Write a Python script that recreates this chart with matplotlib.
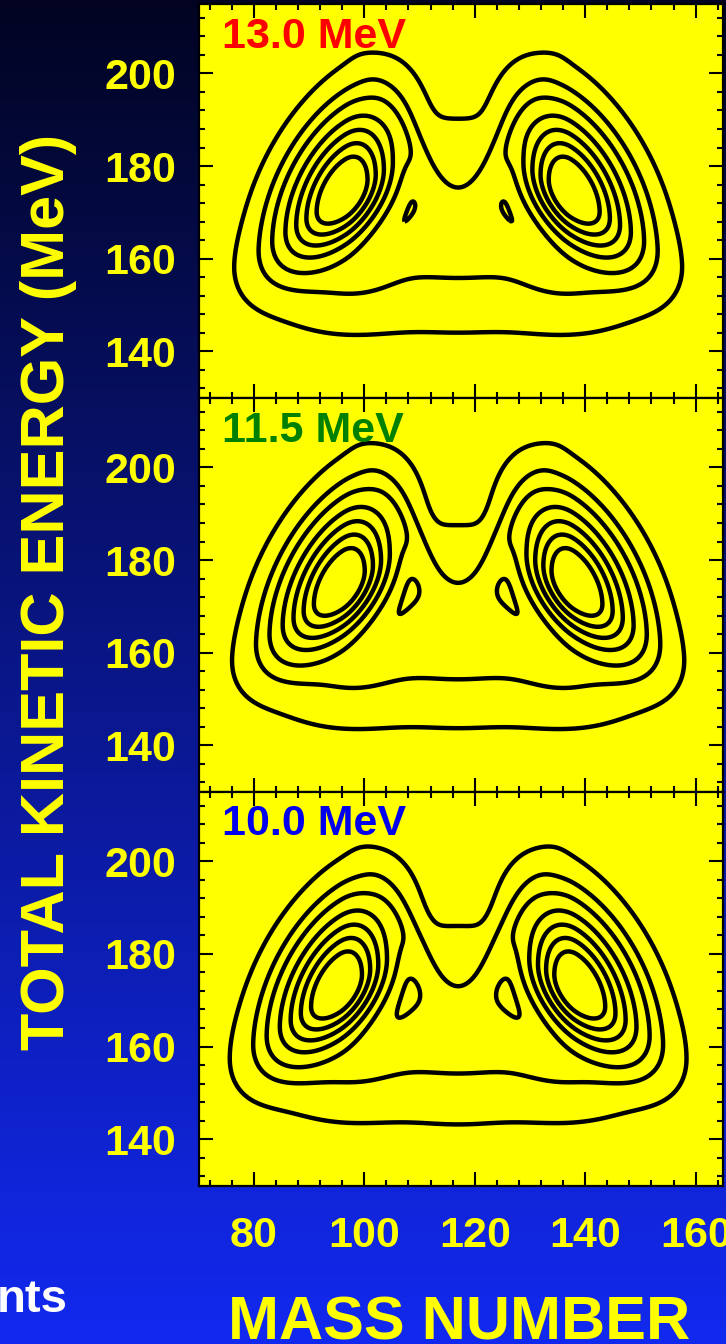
import numpy as np
import matplotlib
matplotlib.use('Agg')
import matplotlib.pyplot as plt
from matplotlib.ticker import MultipleLocator

plt.rcParams['font.family'] = ['Liberation Sans', 'DejaVu Sans']
plt.rcParams['font.weight'] = 'bold'

# Panel labels (excitation energy) and their colours
PANEL_LABELS = ['13.0 MeV', '11.5 MeV', '10.0 MeV']
LABEL_COLORS = ['#ff0000', '#008000', '#0000ee']

X_TICKS = [80, 100, 120, 140, 160]
Y_TICKS = [140, 160, 180, 200]

# mass-TKE yield model (light peak; heavy one is mirrored)
MASS_CENTRE = 117.0
PEAK_MASS = [96.5, 96.0, 95.5]
PEAK_TKE = [174.0, 174.5, 172.5]
PEAK_SIG_A_OUT = [5.5, 5.5, 5.5]
PEAK_SIG_A_IN = [4.4, 4.4, 4.4]
PEAK_SLOPE = [0.75, 0.78, 0.75]
PEAK_SIG_E_HI = [8.0, 8.0, 8.0]
PEAK_SIG_E_LO = [5.5, 5.5, 5.5]

# ridge running from the peak down towards symmetric masses
RIDGE_MASS = [108.0, 108.0, 108.0]
RIDGE_TKE = [184.0, 185.0, 183.0]
RIDGE_SLOPE = 1.6
RIDGE_W = [0.03, 0.03, 0.03]

# low-TKE tail below each peak
TAIL_MASS = [97.0, 97.0, 97.0]
TAIL_TKE = [157.0, 157.0, 157.0]
TAIL_W = [0.025, 0.025, 0.025]
TAIL_SIG_A = 8.0
TAIL_SIG_E = 6.0

# symmetric fission part
SYM_TKE = [165.0, 164.0, 163.0]
SYM_SIG_E_LO = [9.0, 8.5, 8.5]
SYM_SIG_E_HI = [11.0, 10.0, 10.0]
SYM_W = [0.030, 0.0348, 0.031]
SYM_SIG_A = 9.0

# contour levels (relative to peak)
LEVELS = [0.0022, 0.02, 0.06, 0.15, 0.28, 0.45, 0.65]


def gauss(x, mu, s):
    return np.exp(-0.5 * ((x - mu) / s) ** 2)


def split_gauss(x, mu, s_lo, s_hi):
    s = np.where(x < mu, s_lo, s_hi)
    return np.exp(-0.5 * ((x - mu) / s) ** 2)


def yield_map(i, A, E):
    z = np.zeros_like(A)
    for side in (1, -1):
        a0 = MASS_CENTRE + side * (PEAK_MASS[i] - MASS_CENTRE)
        ec = PEAK_TKE[i] + side * PEAK_SLOPE[i] * (A - a0)
        # outer side of the peak is wider than the side facing symmetry
        if side == 1:
            ga = split_gauss(A, a0, PEAK_SIG_A_OUT[i], PEAK_SIG_A_IN[i])
        else:
            ga = split_gauss(A, a0, PEAK_SIG_A_IN[i], PEAK_SIG_A_OUT[i])
        z += ga * split_gauss(E, ec, PEAK_SIG_E_LO[i], PEAK_SIG_E_HI[i])

        r0 = MASS_CENTRE + side * (RIDGE_MASS[i] - MASS_CENTRE)
        er = RIDGE_TKE[i] - side * RIDGE_SLOPE * (A - r0)
        z += RIDGE_W[i] * gauss(A, r0, 3.5) * gauss(E, er, 4.0)

        t0 = MASS_CENTRE + side * (TAIL_MASS[i] - MASS_CENTRE)
        z += TAIL_W[i] * gauss(A, t0, TAIL_SIG_A) * gauss(E, TAIL_TKE[i], TAIL_SIG_E)
    z += SYM_W[i] * gauss(A, MASS_CENTRE, SYM_SIG_A) * \
        split_gauss(E, SYM_TKE[i], SYM_SIG_E_LO[i], SYM_SIG_E_HI[i])
    return z


W, H = 726, 1344
fig = plt.figure(figsize=(W / 100, H / 100), dpi=100)

# background gradient
bg = fig.add_axes([0, 0, 1, 1], zorder=-10)
t = np.linspace(0, 1, 256)[:, None, None]
top = np.array([0.005, 0.015, 0.13])
bottom = np.array([0.07, 0.16, 0.94])
bg.imshow(top + (bottom - top) * t, aspect='auto', extent=[0, 1, 0, 1])
bg.axis('off')

a_grid = np.linspace(70, 165, 500)
e_grid = np.linspace(130, 215, 450)
AA, EE = np.meshgrid(a_grid, e_grid)

left = 198.5 / W
width = (723.3 - 198.5) / W
panel_h = 393.8 / H
bottoms_px = [397.7, 791.7, 1185.5]

for i in range(3):
    ax = fig.add_axes([left, 1 - bottoms_px[i] / H, width, panel_h])
    ax.set_facecolor('#ffff00')
    z = yield_map(i, AA, EE)
    z = z / z.max()
    ax.contour(AA, EE, z, levels=LEVELS, colors='black', linewidths=3.2)
    ax.set_xlim(70, 165)
    ax.set_ylim(130, 215)
    ax.set_xticks(X_TICKS)
    ax.set_yticks(Y_TICKS)
    ax.xaxis.set_minor_locator(MultipleLocator(4))
    ax.yaxis.set_minor_locator(MultipleLocator(4))
    ax.tick_params(which='both', direction='in', top=True, right=True,
                   width=1.5, color='black', labelcolor='#ffff00', labelsize=31)
    ax.tick_params(which='major', length=10)
    ax.tick_params(which='minor', length=4)
    ax.tick_params(axis='y', pad=16)
    ax.tick_params(axis='x', pad=22, labelbottom=(i == 2))
    for sp in ax.spines.values():
        sp.set_linewidth(1.6)
    ax.text(0.045, 0.889, PANEL_LABELS[i], transform=ax.transAxes,
            color=LABEL_COLORS[i], fontsize=31, fontweight='bold',
            ha='left', va='baseline')

fig.text(49 / W, 1 - 592 / H, 'TOTAL KINETIC ENERGY (MeV)', rotation=90,
         color='#ffff00', fontsize=44, fontweight='bold', ha='center', va='center')
fig.text(459 / W, 1 - 1340 / H, 'MASS NUMBER', color='#ffff00', fontsize=44,
         fontweight='bold', ha='center', va='baseline')
fig.text(68 / W, 1 - 1312 / H, 'nts', color='white', fontsize=34,
         fontweight='bold', ha='right', va='baseline')

fig.savefig('out.png', dpi=100)
